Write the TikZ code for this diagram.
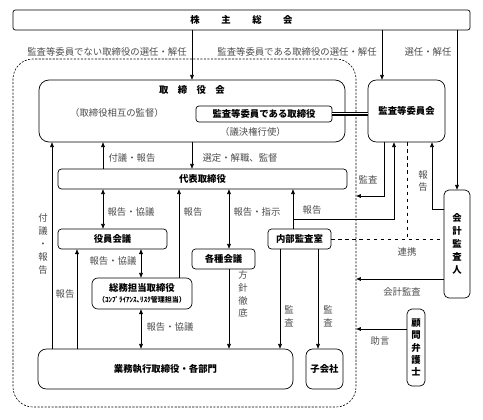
\documentclass[tikz,border=0pt]{standalone}
\usepackage{fontspec}
\setmainfont{Noto Sans CJK JP}
\usetikzlibrary{arrows.meta,calc}

\tikzset{
  box/.style={draw, line width=0.6pt, inner sep=0pt, align=center,
    font=\fontsize{8pt}{10pt}\selectfont\bfseries},
  lbl/.style={text=black!70, inner sep=0pt, font=\fontsize{8pt}{10pt}\selectfont},
  tate/.style={lbl, align=center, font=\fontsize{8pt}{11pt}\selectfont},
  arr/.style={-{Triangle[length=4pt,width=3.2pt]}},
  darr/.style={{Triangle[length=4pt,width=3.2pt]}-{Triangle[length=4pt,width=3.2pt]}},
}

\begin{document}
\begin{tikzpicture}[x=0.03cm, y=-0.03cm, line width=0.5pt]
  \useasboundingbox (0,0) rectangle (483,419);

  % dashed frame round the company
  \node[draw, dash pattern=on 1.8pt off 1.2pt, rounded corners=0.6cm,
    minimum width=10.29cm, minimum height=10.44cm] (waku) at (184.5,233) {};

  % boxes
  \node[box, rounded corners=2pt, minimum width=13.71cm, minimum height=0.6cm] (kabunushi) at (241.5,20)
    {株\kern2.3em 主\kern2.3em 総\kern2.3em 会};
  \node[box, rounded corners=0.3cm, minimum width=9.18cm, minimum height=1.86cm] (torikai) at (192,111) {};
  \node[box, draw=none] (torititle) at (192,90) {取\kern1em 締\kern1em 役\kern1em 会};
  \node[lbl] (sogo) at (117,113) {（取締役相互の監督）};
  \node[box, rounded corners=2.5pt, minimum width=4.08cm, minimum height=0.48cm] (kansatori) at (264,114)
    {監査等委員である取締役};
  \node[lbl] (giketsu) at (253,132) {（議決権行使）};
  \node[box, rounded corners=0.25cm, minimum width=2.31cm, minimum height=1.86cm] (iinkai) at (406.5,111)
    {監査等委員会};
  \node[box, rounded corners=3pt, minimum width=8.67cm, minimum height=0.6cm] (daihyo) at (202.5,179)
    {代表取締役};
  \node[box, rounded corners=3pt, minimum width=3.27cm, minimum height=0.6cm] (yakuin) at (112.5,239)
    {役員会議};
  \node[box, rounded corners=3pt, minimum width=1.89cm, minimum height=0.6cm] (kakushu) at (223.5,259)
    {各種会議};
  \node[box, rounded corners=3pt, minimum width=1.89cm, minimum height=0.6cm] (naibu) at (299.5,239)
    {内部監査室};
  \node[box, rounded corners=5pt, minimum width=3.0cm, minimum height=0.93cm] (somu) at (142,293.5)
    {総務担当取締役\\[-1pt]{\fontsize{6pt}{7pt}\selectfont （ｺﾝﾌﾟﾗｲｱﾝｽ､ﾘｽｸ管理担当）}};
  \node[box, rounded corners=0.25cm, minimum width=7.65cm, minimum height=1.2cm] (gyomu) at (165.5,369)
    {業務執行取締役・各部門};
  \node[box, rounded corners=0.2cm, minimum width=1.11cm, minimum height=1.2cm] (kogaisha) at (324.5,369)
    {子会社};
  \node[box, rounded corners=0.15cm, minimum width=0.78cm, minimum height=3.24cm,
    font=\fontsize{8pt}{11pt}\selectfont\bfseries] (kaikei) at (457,244)
    {会\\計\\監\\査\\人};
  \node[box, rounded corners=0.15cm, minimum width=0.54cm, minimum height=2.31cm,
    font=\fontsize{8pt}{10.5pt}\selectfont\bfseries] (komon) at (416,347.5)
    {顧\\問\\弁\\護\\士};

  % where the connectors run
  \foreach \xx in {52,77,103,141,179,192,229,280,293,318,382,384,394,407,432,457}
    \coordinate (a\xx) at (\xx,0);
  \foreach \yy in {196,209,219,239,279,329}
    \coordinate (y\yy) at (0,\yy);

  % connectors
  \draw[arr] (kabunushi.south -| a192) -- (torikai.north -| a192);
  \draw[arr] (kabunushi.south -| a382) -- (iinkai.north -| a382);
  \draw[arr] (kabunushi.south -| a457) -- (kaikei.north);
  \draw[double, double distance=2pt] (kansatori.east) -- (iinkai.west |- kansatori.east);
  \draw (kansatori.east) -- (iinkai.west |- kansatori.east);
  \draw[arr] (daihyo.north -| a103) -- (torikai.south -| a103);
  \draw[arr] (torikai.south -| a192) -- (daihyo.north -| a192);
  \draw[arr] (gyomu.north -| a52) -- (torikai.south -| a52);
  \draw[darr] (daihyo.south -| a103) -- (yakuin.north -| a103);
  \draw[arr] (somu.north -| a179) -- (daihyo.south -| a179);
  \draw[darr] (daihyo.south -| a229) -- (kakushu.north -| a229);
  \draw[arr] (naibu.north -| a293) -- (daihyo.south -| a293);
  \draw[arr] (a293 |- y219) -| (iinkai.south -| a394);
  \draw[arr] (iinkai.south -| a384) |- (waku.east |- y196);
  \draw[arr] (kaikei.west |- y209) -| (iinkai.south -| a432);
  \draw[dashed] (iinkai.south -| a407) -- (a407 |- y239);
  \draw[dashed] (naibu.east) -- (kaikei.west |- naibu.east);
  \draw[arr] (kaikei.west |- y279) -- (waku.east |- y279);
  \draw[arr] (komon.west |- y329) -- (waku.east |- y329);
  \draw[darr] (yakuin.south -| a141) -- (somu.north -| a141);
  \draw[arr] (gyomu.north -| a77) -- (yakuin.south -| a77);
  \draw[arr] (kakushu.south -| a229) -- (gyomu.north -| a229);
  \draw[arr] (naibu.south -| a280) -- (gyomu.north -| a280);
  \draw[arr] (naibu.south -| a318) -- (kogaisha.north -| a318);
  \draw[darr] (somu.south -| a141) -- (gyomu.north -| a141);

  % labels
  \node[lbl] (l-sennin1) at (107,52) {監査等委員でない取締役の選任・解任};
  \node[lbl] (l-sennin2) at (297,52) {監査等委員である取締役の選任・解任};
  \node[lbl] (l-sennin3) at (428,52) {選任・解任};
  \node[lbl] (l-fugi1) at (132,158) {付議・報告};
  \node[lbl] (l-sentei) at (240,158) {選定・解職、監督};
  \node[tate] (l-fugi2) at (43,244) {付\\議\\・\\報\\告};
  \node[lbl] (l-kyogi1) at (131,212) {報告・協議};
  \node[lbl] (l-hokoku1) at (193,212) {報告};
  \node[lbl] (l-shiji) at (257,212) {報告・指示};
  \node[lbl] (l-hokoku2) at (312,210) {報告};
  \node[lbl] (l-kansa1) at (368,180) {監査};
  \node[tate] (l-hokoku3) at (423,181) {報\\告};
  \node[lbl] (l-renkei) at (407,252) {連携};
  \node[lbl] (l-kaikei) at (402,292) {会計監査};
  \node[lbl] (l-jogen) at (380,341) {助言};
  \node[lbl] (l-kyogi2) at (113,261) {報告・協議};
  \node[lbl] (l-hokoku4) at (65,294) {報告};
  \node[tate] (l-hoshin) at (243,294) {方\\針\\徹\\底};
  \node[tate] (l-kansa2) at (289,316) {監\\査};
  \node[tate] (l-kansa3) at (328,316) {監\\査};
  \node[lbl] (l-kyogi3) at (170,327) {報告・協議};
\end{tikzpicture}
\end{document}
